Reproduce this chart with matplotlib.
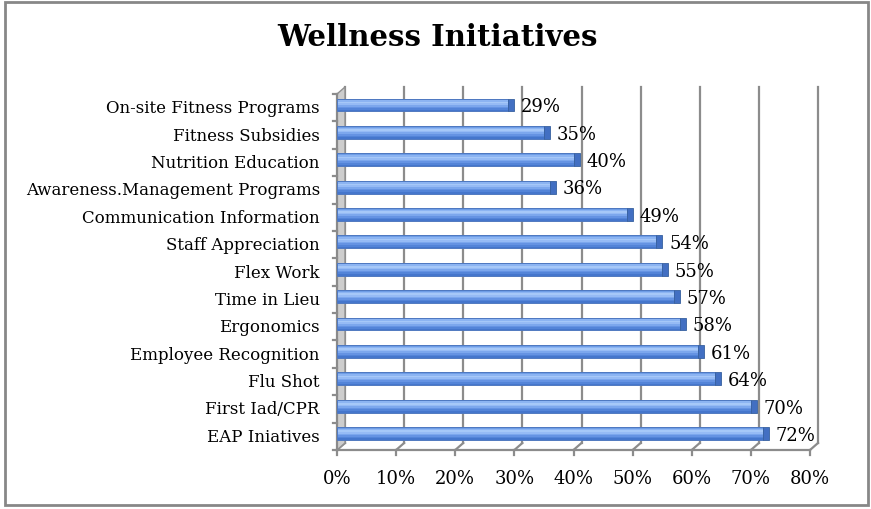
import matplotlib
matplotlib.use("Agg")
import matplotlib.pyplot as plt
from matplotlib.patches import Polygon, Rectangle

# data (bottom to top)
categories = ["EAP Iniatives", "First Iad/CPR", "Flu Shot", "Employee Recognition",
              "Ergonomics", "Time in Lieu", "Flex Work", "Staff Appreciation",
              "Communication Information", "Awareness.Management Programs",
              "Nutrition Education", "Fitness Subsidies", "On-site Fitness Programs"]
values = [72, 70, 64, 61, 58, 57, 55, 54, 49, 36, 40, 35, 29]
xticks = [0, 10, 20, 30, 40, 50, 60, 70, 80]

plt.rcParams['font.family'] = ['DejaVu Serif', 'Liberation Serif']

W, H = 871, 510
fig = plt.figure(figsize=(W / 100, H / 100), dpi=100)

# outer frame
fig.patches.append(Rectangle((5 / W, 4 / H), 863 / W, 503 / H, transform=fig.transFigure,
                             fill=False, edgecolor='#878787', linewidth=2))

ax = fig.add_axes([337 / W, (H - 451) / H, 473 / W, 356 / H])
ax.set_xlim(0, 80)
ax.set_ylim(-0.5, len(categories) - 0.5)
for s in ax.spines.values():
    s.set_visible(False)
ax.set_xticks([])
ax.set_yticks([])

# depth offset in data units (about 8 px right, 7 px up)
dx = 8 / (473 / 80)
dy = 7 / (356 / len(categories))
ytop = len(categories) - 0.5
ybot = -0.5
grid_c = '#8c8c8c'

# back wall gridlines + floor stubs
for t in xticks:
    ax.plot([t + dx, t + dx], [ybot + dy, ytop + dy], color=grid_c, lw=1.6, clip_on=False, zorder=1)
    ax.plot([t, t + dx], [ybot, ybot + dy], color=grid_c, lw=1.6, clip_on=False, zorder=1)
    ax.plot([t, t], [ybot, ybot - 0.2], color=grid_c, lw=1.6, clip_on=False, zorder=1)
    ax.text(t, ybot - 1.02, f"{t}%", ha='center', va='center', fontsize=13)
ax.plot([0, 80], [ybot, ybot], color=grid_c, lw=1.6, clip_on=False, zorder=1)

# left wall
ax.add_patch(Polygon([(0, ybot), (dx, ybot + dy), (dx, ytop + dy), (0, ytop)],
                     closed=True, facecolor='#cdcdcd', edgecolor='#909090', lw=1,
                     clip_on=False, zorder=2))
ax.plot([0, 0], [ybot, ytop], color='#8a8a8a', lw=1.6, clip_on=False, zorder=2)
for i in range(len(categories) + 1):
    ax.plot([-0.7, 0], [i - 0.5, i - 0.5], color=grid_c, lw=1.6, clip_on=False, zorder=2)

# bars with a stripe gradient
ys = [i + 0.1 for i in range(len(categories))]
h = 0.47
shades = ['#4576cc', '#5384d8', '#6593e3', '#7ca7ed', '#96bbf5', '#a6c8f8', '#8cb4f2', '#6e9de6']
n = len(shades)
for k, c in enumerate(shades):
    off = -h / 2 + (k + 0.5) * h / n
    ax.barh([y + off for y in ys], values, height=h / n, color=c, linewidth=0, zorder=3)
ax.barh(ys, values, height=h, fill=False, edgecolor='#4f78c0', linewidth=0.7, zorder=4)
# end caps
ax.barh(ys, [dx * 0.75] * len(values), left=values, height=h, color='#426fc2',
        edgecolor='#36609f', linewidth=0.6, zorder=4)

for y, v in zip(ys, values):
    ax.text(v + dx + 0.8, y - 0.05, f"{v}%", ha='left', va='center', fontsize=13, zorder=5)

for i, name in enumerate(categories):
    ax.text(-2.9, i, name, ha='right', va='center', fontsize=12)

fig.text(437 / W, (H - 37) / H, "Wellness Initiatives", ha='center', va='center',
         fontsize=21, fontweight='bold')

fig.savefig("out.png", dpi=100)
